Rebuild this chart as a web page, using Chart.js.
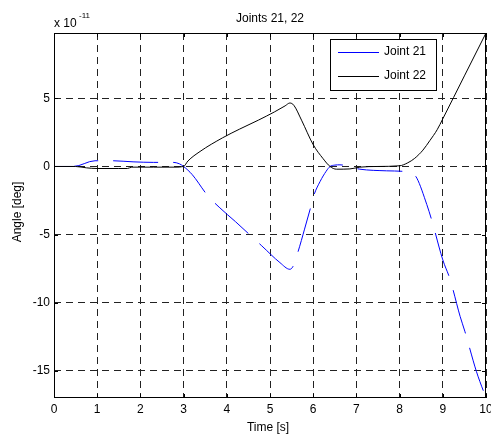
<!DOCTYPE html>
<html>
<head>
<meta charset="utf-8">
<script src="https://cdn.jsdelivr.net/npm/chart.js@4/dist/chart.umd.min.js"></script>
<style>
  html, body { margin: 0; padding: 0; background: #fff; }
  canvas { display: block; }
</style>
</head>
<body>
<canvas id="joints" width="491" height="435"></canvas>
<script>
// data, angles in units of 1e-11 deg
const timeJ21 = [0, 0.45, 0.95, 1.35, 1.83, 2.3, 2.76, 2.9, 3.0, 3.2, 3.56, 3.84, 4.2, 4.56, 4.81, 5.23, 5.46, 5.53, 5.65, 5.8, 5.93, 6.02, 6.16, 6.3, 6.39, 6.5, 6.62, 7.08, 7.7, 8.12, 8.3, 8.4, 8.63, 8.74, 9.0, 9.17, 9.4, 9.51, 9.78, 10];
const angleJ21 = [0, 0, 0.42, 0.42, 0.34, 0.3, 0.3, 0.2, 0, -0.6, -2.15, -3.04, -4.05, -5.1, -5.83, -7.06, -7.55, -7.35, -6.25, -4.6, -3.13, -2.08, -1.1, -0.35, 0, 0.1, 0.12, -0.2, -0.32, -0.37, -0.5, -0.86, -2.8, -3.9, -6.86, -8.3, -11.0, -12.1, -15.07, -17.0];

const timeJ22 = [0, 0.5, 0.75, 1.0, 1.5, 1.7, 1.8, 2.3, 2.8, 3.0, 3.1, 3.38, 3.9, 4.3, 4.73, 5.1, 5.35, 5.46, 5.55, 5.73, 6.0, 6.23, 6.39, 6.54, 6.85, 7.08, 7.5, 8.0, 8.19, 8.35, 8.54, 8.7, 8.87, 9.0, 9.5, 10];
const angleJ22 = [0, 0, -0.1, -0.15, -0.15, -0.15, -0.05, -0.05, -0.05, 0, 0.4, 1.1, 2.1, 2.75, 3.4, 4.0, 4.45, 4.66, 4.5, 3.4, 1.6, 0.57, 0, -0.2, -0.18, -0.05, 0, 0.05, 0.27, 0.6, 1.2, 1.9, 2.7, 3.5, 6.65, 9.8];

const xTicks = [0, 1, 2, 3, 4, 5, 6, 7, 8, 9, 10];
const yTicks = [-15, -10, -5, 0, 5];
const seriesNames = ["Joint 21", "Joint 22"];
const seriesColors = ["#0000ff", "#000000"];

const FONT = '12px "Liberation Sans", Arial, sans-serif';

const toPoints = (xs, ys) => xs.map((x, i) => ({ x: x, y: ys[i] }));

// matlab-ish decorations: box, inward ticks, labels, legend
const matlabFrame = {
  id: "matlabFrame",
  afterDraw(chart) {
    const ctx = chart.ctx;
    const a = chart.chartArea;
    const xs = chart.scales.x;
    const ys = chart.scales.y;
    ctx.save();

    // box + ticks
    ctx.strokeStyle = "#000";
    ctx.lineWidth = 1;
    ctx.setLineDash([]);
    ctx.strokeRect(a.left + 0.5, a.top + 0.5, a.right - a.left - 1, a.bottom - a.top - 1);
    ctx.beginPath();
    xTicks.forEach(t => {
      const px = Math.round(xs.getPixelForValue(t)) + 0.5;
      ctx.moveTo(px, a.bottom); ctx.lineTo(px, a.bottom - 4);
      ctx.moveTo(px, a.top); ctx.lineTo(px, a.top + 4);
    });
    yTicks.forEach(t => {
      const py = Math.round(ys.getPixelForValue(t)) + 0.5;
      ctx.moveTo(a.left, py); ctx.lineTo(a.left + 4, py);
      ctx.moveTo(a.right, py); ctx.lineTo(a.right - 4, py);
    });
    ctx.stroke();

    ctx.fillStyle = "#000";
    ctx.font = FONT;
    ctx.textAlign = "center";
    ctx.textBaseline = "middle";
    xTicks.forEach(t => ctx.fillText(String(t), xs.getPixelForValue(t), a.bottom + 12));
    ctx.textAlign = "right";
    yTicks.forEach(t => ctx.fillText(String(t), a.left - 4, ys.getPixelForValue(t)));

    // title + axis labels
    ctx.textAlign = "center";
    ctx.fillText("Joints 21, 22", (a.left + a.right) / 2, 19);
    ctx.fillText("Time [s]", 268, 428);
    ctx.save();
    ctx.translate(18, 212);
    ctx.rotate(-Math.PI / 2);
    ctx.fillText("Angle [deg]", 0, 0);
    ctx.restore();

    // exponent
    ctx.textAlign = "left";
    ctx.textBaseline = "alphabetic";
    ctx.fillText("x 10", a.left, 27);
    ctx.font = '8px "Liberation Sans", Arial, sans-serif';
    ctx.fillText("-11", 79, 18);

    // legend
    const lx = 330, ly = 39, lw = 106, lh = 51;
    ctx.fillStyle = "#fff";
    ctx.fillRect(lx, ly, lw, lh);
    ctx.strokeStyle = "#000";
    ctx.strokeRect(lx + 0.5, ly + 0.5, lw, lh);
    ctx.font = FONT;
    ctx.textBaseline = "middle";
    seriesNames.forEach((name, i) => {
      const ry = ly + 13 + i * 24;
      ctx.strokeStyle = seriesColors[i];
      ctx.beginPath();
      ctx.moveTo(338, ry + 0.5); ctx.lineTo(379, ry + 0.5);
      ctx.stroke();
      ctx.fillStyle = "#000";
      ctx.fillText(name, 384, ry);
    });
    ctx.restore();
  }
};

new Chart(document.getElementById("joints"), {
  type: "scatter",
  data: {
    datasets: [
      {
        label: seriesNames[0],
        data: toPoints(timeJ21, angleJ21),
        showLine: true,
        borderColor: seriesColors[0],
        borderWidth: 1,
        borderDash: [45, 15],
        pointRadius: 0,
        cubicInterpolationMode: "monotone",
        order: 2
      },
      {
        label: seriesNames[1],
        data: toPoints(timeJ22, angleJ22),
        showLine: true,
        borderColor: seriesColors[1],
        borderWidth: 1,
        pointRadius: 0,
        cubicInterpolationMode: "monotone",
        order: 1
      }
    ]
  },
  options: {
    responsive: false,
    animation: false,
    devicePixelRatio: 1,
    layout: { padding: { left: 54, right: 5, top: 33, bottom: 37 } },
    plugins: { legend: { display: false }, tooltip: { enabled: false } },
    scales: {
      x: {
        type: "linear",
        min: 0, max: 10,
        afterFit: s => { s.height = 0; },
        afterBuildTicks: s => { s.ticks = xTicks.map(v => ({ value: v })); },
        ticks: { display: false },
        grid: { color: "#222", lineWidth: 1, drawTicks: false },
        border: { display: false, dash: [7, 5] }
      },
      y: {
        type: "linear",
        min: -17, max: 9.8,
        afterFit: s => { s.width = 0; },
        afterBuildTicks: s => { s.ticks = yTicks.map(v => ({ value: v })); },
        ticks: { display: false },
        grid: { color: "#222", lineWidth: 1, drawTicks: false },
        border: { display: false, dash: [7, 5] }
      }
    }
  },
  plugins: [matlabFrame]
});
</script>
</body>
</html>
